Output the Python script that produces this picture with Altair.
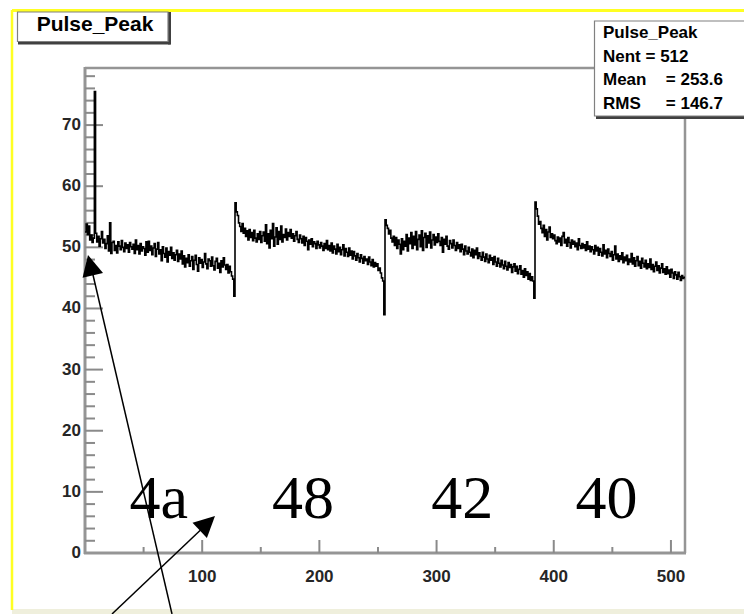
import altair as alt
import pandas as pd

# Pulse_Peak channel contents, 512 channels in four groups of 128 (4a, 48, 42, 40)
seg_4a = [
    52.5, 53.8, 52.1, 53.5, 51.2, 52.0, 50.8, 51.5,
    75.5, 52.3, 50.9, 51.8, 50.2, 51.4, 52.6, 50.7,
    51.3, 49.8, 50.6, 51.9, 49.4, 54.0, 49.0, 50.8,
    51.0, 49.5, 50.3, 49.1, 50.9, 50.2, 49.6, 51.1,
    50.0, 49.3, 50.7, 49.8, 50.4, 49.2, 50.8, 50.1,
    49.7, 50.5, 49.0, 51.2, 49.6, 50.3, 48.9, 50.6,
    49.4, 50.1, 49.8, 48.7, 50.9, 49.2, 51.0, 49.5,
    50.2, 48.8, 49.9, 50.6, 48.5, 49.7, 50.8, 48.9,
    49.6, 47.8, 50.1, 49.0, 48.4, 49.9, 47.6, 49.3,
    48.7, 50.0, 48.2, 49.1, 47.9, 48.8, 49.5, 47.7,
    48.9, 48.1, 49.4, 47.3, 48.6, 46.8, 48.2, 47.5,
    48.8, 46.9, 47.8, 48.5, 46.4, 47.9, 48.7, 47.2,
    46.1, 48.3, 47.4, 48.0, 46.7, 47.6, 49.0, 47.3,
    46.5, 48.1, 47.8, 46.9, 48.4, 47.0, 46.3, 47.7,
    48.2, 46.6, 47.4, 45.9, 47.8, 46.8, 48.3, 47.1,
    46.4, 47.2, 45.8, 46.9, 46.0, 45.3, 44.8, 42.0,
]
seg_48 = [
    57.3, 55.8, 55.2, 54.0, 53.4, 52.6, 53.9, 52.3,
    53.1, 51.8, 52.7, 51.2, 52.9, 51.6, 52.4, 51.1,
    52.8, 51.5, 50.9, 52.2, 51.3, 52.6, 50.8, 51.9,
    52.5, 51.0, 53.7, 50.6, 52.2, 49.9, 52.8, 51.4,
    53.9, 50.2, 51.7, 53.2, 50.5, 52.6, 51.3, 53.5,
    50.9, 52.1, 51.6, 53.0, 51.2, 52.4, 51.8, 52.9,
    51.5, 52.2, 51.0, 51.9, 52.6, 51.3, 50.8, 52.0,
    51.4, 50.7, 51.8, 50.3, 51.6, 51.0, 49.6, 51.2,
    50.5, 51.4, 50.1, 50.9, 50.6, 49.8, 51.0, 50.4,
    49.9, 50.8, 50.2, 49.5, 50.6, 49.8, 51.1, 49.6,
    50.3, 49.4, 50.7, 49.1, 50.2, 49.7, 48.9, 50.5,
    49.3, 50.0, 48.8, 49.6, 50.4, 48.6, 49.8, 49.2,
    48.5, 49.9, 48.7, 49.4, 48.1, 49.3, 48.6, 47.9,
    49.0, 48.3, 47.6, 48.8, 48.2, 47.4, 48.5, 47.8,
    48.1, 47.2, 48.4, 47.6, 47.0, 48.0, 46.8, 47.5,
    46.9, 47.3, 46.2, 46.6, 45.8, 45.0, 44.5, 39.0,
]
seg_42 = [
    54.5, 53.6, 53.1, 52.2, 52.8, 51.5, 50.9, 51.8,
    50.3, 51.6, 49.8, 51.2, 50.5, 48.9, 51.4, 49.6,
    51.0, 50.2, 52.1, 49.4, 51.5, 50.6, 52.4, 49.8,
    51.8, 50.4, 52.6, 49.6, 51.3, 52.0, 50.1, 52.7,
    49.5, 51.6, 52.3, 50.0, 51.9, 50.7, 52.5, 49.9,
    51.2, 52.1, 50.4, 51.7, 50.8, 52.2, 51.0, 50.3,
    51.6, 49.2, 51.3, 50.5, 51.8, 50.2, 49.7, 51.1,
    50.6, 49.9, 51.2, 50.3, 49.5, 50.8, 49.8, 50.4,
    49.3, 50.5, 49.7, 48.8, 50.2, 49.4, 48.9, 50.0,
    49.2, 48.6, 49.7, 48.3, 49.5, 48.8, 49.9, 48.2,
    49.1, 48.5, 47.9, 49.2, 48.4, 47.7, 48.9, 48.1,
    47.5, 48.7, 47.9, 48.3, 47.2, 48.5, 47.6, 46.9,
    48.2, 47.4, 46.8, 47.9, 47.1, 46.5, 47.7, 46.9,
    46.3, 47.5, 46.7, 47.2, 45.9, 46.8, 47.3, 46.1,
    46.9, 45.7, 46.4, 47.0, 45.6, 46.2, 45.1, 46.5,
    45.4, 46.0, 44.8, 45.7, 44.6, 45.2, 44.5, 41.7,
]
seg_40 = [
    57.4, 56.3, 55.1, 53.8, 54.2, 53.1, 52.4, 53.6,
    51.8, 52.9, 51.2, 52.5, 53.3, 51.6, 52.2, 51.4,
    52.0, 51.1, 50.6, 51.7, 50.9, 51.5, 50.3, 51.8,
    52.4, 50.7, 51.3, 50.2, 51.6, 50.8, 49.9, 51.2,
    50.5, 51.0, 50.1, 50.7, 49.6, 51.4, 50.3, 49.8,
    50.6, 49.9, 50.4, 49.5, 50.9, 49.7, 50.2, 49.3,
    50.1, 49.6, 48.9, 50.3, 49.4, 50.0, 48.7, 49.8,
    49.2, 48.6, 50.4, 48.9, 49.5, 48.3, 49.7, 49.0,
    48.5, 49.3, 47.9, 48.8, 50.2, 48.1, 48.9, 47.7,
    48.6, 48.0, 49.1, 47.5, 48.4, 47.8, 48.7, 47.2,
    48.1, 47.6, 49.0, 47.3, 48.3, 46.9, 47.8, 48.5,
    47.0, 47.7, 46.6, 48.2, 47.4, 46.8, 47.9, 46.5,
    47.3, 46.7, 48.1, 46.4, 47.2, 46.0, 46.9, 47.6,
    46.2, 47.0, 45.8, 46.6, 47.3, 45.9, 46.5, 45.6,
    46.8, 45.7, 46.3, 45.1, 46.4, 45.8, 44.9, 46.0,
    45.5, 44.8, 45.9, 45.2, 44.6, 45.4, 44.9, 45.1,
]

# Group names written over each block of channels, and where they sit
group_names = ["4a", "48", "42", "40"]
group_label_x = [63, 186, 322, 445]
group_label_y = [5.7, 5.7, 5.7, 5.7]

# Statistics box text
hist_name = "Pulse_Peak"
stat_names = ["Nent", "Mean", "RMS"]
stat_values = ["512", "253.6", "146.7"]

# Axis tick positions and labels
x_major = [100, 200, 300, 400, 500]
x_minor = [50, 150, 250, 350, 450]
y_major = [0, 10, 20, 30, 40, 50, 60, 70]
y_minor = [v for v in range(2, 80, 2) if v % 10 != 0]

counts = seg_4a + seg_48 + seg_42 + seg_40
n_bins = len(counts)
hist = pd.DataFrame({
    "bin": list(range(n_bins)) + [n_bins],
    "count": counts + [counts[-1]],
})

# Plot frame placement on the 744x614 canvas
LEFT, TOP, W, H = 85, 67, 600, 486
CANVAS_W, CANVAS_H = 744, 614

def px(x):
    return x - LEFT

def py(y):
    return y - TOP

xscale = alt.Scale(domain=[0, 512], nice=False, zero=False)
yscale = alt.Scale(domain=[0, 79.5], nice=False, zero=False)

FONT = "Liberation Sans"
anchor = pd.DataFrame({"k": [0]})

def hline(x1, x2, y, color, w):
    return alt.Chart(anchor).mark_rule(color=color, strokeWidth=w).encode(
        x=alt.value(px(x1)), x2=alt.value(px(x2)), y=alt.value(py(y)))

def vline(x, y1, y2, color, w):
    return alt.Chart(anchor).mark_rule(color=color, strokeWidth=w).encode(
        x=alt.value(px(x)), y=alt.value(py(y1)), y2=alt.value(py(y2)))

def seg(x1, y1, x2, y2, color, w):
    return alt.Chart(anchor).mark_rule(color=color, strokeWidth=w).encode(
        x=alt.value(px(x1)), y=alt.value(py(y1)),
        x2=alt.value(px(x2)), y2=alt.value(py(y2)))

def box(x1, y1, x2, y2, fill, stroke=None, sw=0):
    kw = dict(fill=fill, strokeWidth=sw)
    if stroke is not None:
        kw["stroke"] = stroke
    return alt.Chart(anchor).mark_rect(**kw).encode(
        x=alt.value(px(x1)), x2=alt.value(px(x2)),
        y=alt.value(py(y1)), y2=alt.value(py(y2)))

def label(text, x, y, size, align="left", weight="bold", font=FONT, color="black"):
    return alt.Chart(anchor).mark_text(
        text=text, align=align, baseline="middle", fontSize=size,
        fontWeight=weight, font=font, color=color,
    ).encode(x=alt.value(px(x)), y=alt.value(py(y)))

ARROW_HEAD = "M0,0L0.5,1L-0.5,1Z"

def arrowhead(x, y, angle):
    return alt.Chart(anchor).mark_point(
        shape=ARROW_HEAD, size=1764, filled=True, color="black",
        opacity=1, angle=angle, strokeWidth=0,
    ).encode(x=alt.value(px(x)), y=alt.value(py(y)))

# Canvas border
canvas_deco = [
    box(12, 609, CANVAS_W, CANVAS_H, "#efefdc"),
    hline(12, CANVAS_W, 10.5, "#ffff22", 3),
    vline(12, 10, 610, "#ffff22", 2.5),
]

# Frame of the pad
FRAME = "#959595"
frame = [
    hline(LEFT, LEFT + W, TOP + 1, FRAME, 2.5),
    vline(LEFT + W, TOP, TOP + H, FRAME, 2.5),
    vline(LEFT, TOP, TOP + H + 1, FRAME, 3),
    hline(LEFT - 1, LEFT + W + 1, TOP + H, FRAME, 3),
]

# Ticks point into the frame; labels sit outside it
TICK = "#8a8a8a"
LABEL_COLOR = "#262626"
ticks = [
    alt.Chart(pd.DataFrame({"v": y_major[1:]})).mark_rule(color=TICK, strokeWidth=2).encode(
        y=alt.Y("v:Q", scale=yscale, axis=None), x=alt.value(0), x2=alt.value(18)),
    alt.Chart(pd.DataFrame({"v": y_minor})).mark_rule(color=TICK, strokeWidth=2).encode(
        y=alt.Y("v:Q", scale=yscale, axis=None), x=alt.value(0), x2=alt.value(10)),
    alt.Chart(pd.DataFrame({"v": x_major})).mark_rule(color=TICK, strokeWidth=2).encode(
        x=alt.X("v:Q", scale=xscale, axis=None), y=alt.value(H), y2=alt.value(H - 13)),
    alt.Chart(pd.DataFrame({"v": x_minor})).mark_rule(color=TICK, strokeWidth=2).encode(
        x=alt.X("v:Q", scale=xscale, axis=None), y=alt.value(H), y2=alt.value(H - 6)),
]
tick_labels = [
    alt.Chart(pd.DataFrame({"v": y_major, "t": [str(v) for v in y_major]})).mark_text(
        font=FONT, fontWeight="bold", fontSize=17, color=LABEL_COLOR,
        align="right", baseline="middle",
    ).encode(y=alt.Y("v:Q", scale=yscale, axis=None), x=alt.value(-4), text="t:N"),
    alt.Chart(pd.DataFrame({"v": x_major, "t": [str(v) for v in x_major]})).mark_text(
        font=FONT, fontWeight="bold", fontSize=17, color=LABEL_COLOR,
        align="center", baseline="middle",
    ).encode(x=alt.X("v:Q", scale=xscale, axis=None), y=alt.value(H + 24), text="t:N"),
]

histogram = alt.Chart(hist).mark_line(
    interpolate="step-after", color="black", strokeWidth=1.6,
).encode(
    x=alt.X("bin:Q", scale=xscale, axis=None),
    y=alt.Y("count:Q", scale=yscale, axis=None),
)

groups = alt.Chart(pd.DataFrame({
    "name": group_names, "x": group_label_x, "y": group_label_y,
})).mark_text(
    font="Liberation Serif", fontSize=62, align="center", baseline="alphabetic", color="black",
).encode(
    x=alt.X("x:Q", scale=xscale, axis=None),
    y=alt.Y("y:Q", scale=yscale, axis=None),
    text="name:N",
)

arrows = [
    seg(172, 614, 90, 262, "black", 1.5),
    arrowhead(88, 255, 346.8),
    seg(112, 614, 209, 522, "black", 1.5),
    arrowhead(215, 516, 46.7),
]

# Title box with its shadow
title_box = [
    hline(18, 170.5, 43, "#404040", 3),
    vline(169.5, 12, 44.5, "#404040", 3),
    box(17.5, 12, 168, 41.5, "white", "#808080", 1.2),
    label(hist_name, 95, 25, 21, align="center"),
]

# Statistics box
stats_box = [
    hline(596, CANVAS_W, 117.5, "#404040", 3),
    box(594.5, 21, CANVAS_W + 5, 116, "white", "#808080", 1.2),
    label(hist_name, 603, 33, 17),
    label(f"{stat_names[0]} = {stat_values[0]}", 603, 57, 17),
    label(stat_names[1], 603, 80, 17),
    label(f"= {stat_values[1]}", 723, 80, 17, align="right"),
    label(stat_names[2], 603, 104, 17),
    label(f"= {stat_values[2]}", 723, 104, 17, align="right"),
]

chart = alt.layer(
    *canvas_deco, *frame, *ticks, *tick_labels, histogram, groups,
    *arrows, *title_box, *stats_box,
).properties(
    width=W, height=H,
    padding={"left": LEFT, "top": TOP, "right": CANVAS_W - LEFT - W, "bottom": CANVAS_H - TOP - H},
    autosize=alt.AutoSizeParams(type="none"),
    background="white",
).configure_view(stroke=None)

chart.save("out.html", embed_options={"renderer": "svg", "actions": False})
